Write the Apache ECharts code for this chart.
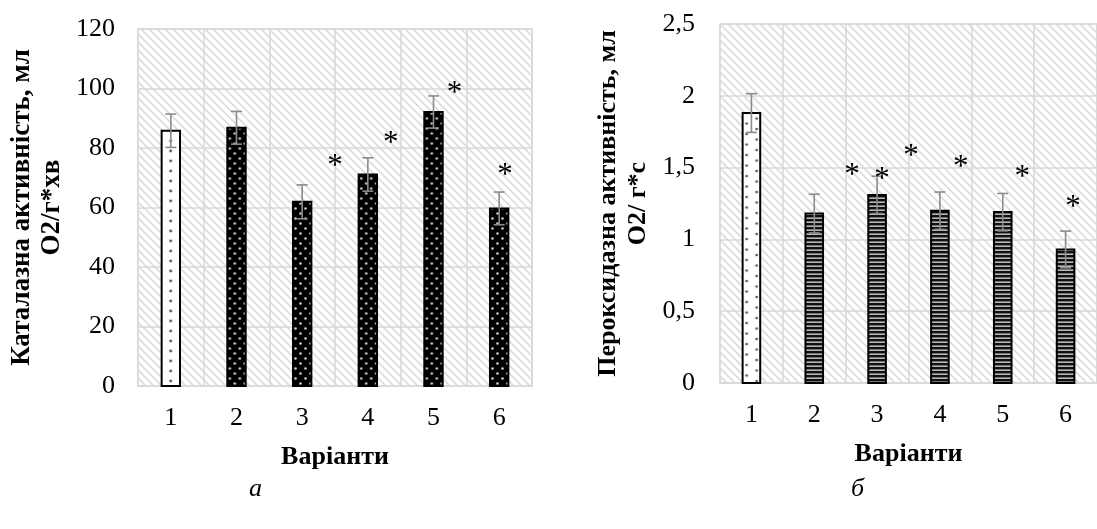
<!DOCTYPE html>
<html>
<head>
<meta charset="utf-8">
<script src="https://cdn.jsdelivr.net/npm/echarts@6/dist/echarts.min.js"></script>
<style>
html,body{margin:0;padding:0;background:#fff;}
#c{width:1097px;height:529px;}
</style>
</head>
<body>
<div id="c"></div>
<script>
// ---- data ----
const categories = ['1', '2', '3', '4', '5', '6'];
const catalaseValues = [85.8, 86.8, 61.9, 71.1, 92.1, 59.7];
const catalaseErrors = [5.6, 5.5, 5.7, 5.6, 5.4, 5.5];
const peroxidaseValues = [1.88, 1.18, 1.31, 1.2, 1.19, 0.93];
const peroxidaseErrors = [0.135, 0.135, 0.13, 0.13, 0.13, 0.128];
// significance asterisks: category position (0-based, fractional) and value
const catalaseStarPos = [2.5, 3.35, 4.32, 5.09];
const catalaseStarVal = [75.6, 83.4, 100.2, 72.6];
const peroxidaseStarPos = [1.6, 2.08, 2.54, 3.33, 4.31, 5.12];
const peroxidaseStarVal = [1.483, 1.455, 1.616, 1.539, 1.469, 1.26];
const catalaseTicks = [0, 20, 40, 60, 80, 100, 120];
const peroxidaseTicks = ['0', '0,5', '1', '1,5', '2', '2,5'];

// ---- patterns ----
function mk(w, h, draw) {
  const c = document.createElement('canvas');
  c.width = w; c.height = h;
  draw(c.getContext('2d'), w, h);
  return c;
}
const hatch = mk(8, 8, (g, w, h) => {
  g.fillStyle = '#ffffff'; g.fillRect(0, 0, w, h);
  g.strokeStyle = '#dcdcdc'; g.lineWidth = 1.6;
  g.beginPath();
  g.moveTo(-2, -2); g.lineTo(w + 2, h + 2);
  g.moveTo(-2, h - 2); g.lineTo(2, h + 2);
  g.moveTo(w - 2, -2); g.lineTo(w + 2, 2);
  g.stroke();
});
const dotsBlack = mk(10, 10, (g, w, h) => {
  g.fillStyle = '#000'; g.fillRect(0, 0, w, h);
  g.fillStyle = '#d0d0d0';
  [[2.5, 2.5], [7.5, 7.5]].forEach(p => { g.beginPath(); g.arc(p[0], p[1], 1.3, 0, Math.PI * 2); g.fill(); });
});
const dotsWhiteSingle = mk(18, 10.6, (g, w, h) => {
  g.fillStyle = '#fff'; g.fillRect(0, 0, w, h);
  g.fillStyle = '#555';
  g.beginPath(); g.arc(w / 2, 5, 1.4, 0, Math.PI * 2); g.fill();
});
const dotsWhiteDouble = mk(18, 21, (g, w, h) => {
  g.fillStyle = '#fff'; g.fillRect(0, 0, w, h);
  g.fillStyle = '#555';
  [[4, 3], [14, 8.5], [4, 13.5], [14, 19]].forEach(p => { g.beginPath(); g.arc(p[0], p[1], 1.3, 0, Math.PI * 2); g.fill(); });
});
const stripes = mk(4, 4.4, (g, w, h) => {
  g.fillStyle = '#111'; g.fillRect(0, 0, w, h);
  g.fillStyle = '#b8b8b8'; g.fillRect(0, 2.4, w, 2);
});

function pat(img, x, y) { return { image: img, repeat: 'repeat', x: x, y: y }; }

const serif = 'Liberation Serif, Times New Roman, serif';
const gridLine = '#d9d9d9';
const FS = 26;

function barRenderer(firstImg, restImg) {
  return function (params, api) {
    const i = api.value(0), v = api.value(1), e = api.value(2);
    const top = api.coord([i, v]);
    const base = api.coord([i, 0]);
    const bw = api.size([1, 0])[0] * 0.28;
    const x = top[0] - bw / 2;
    const img = i === 0 ? firstImg : restImg;
    const hi = api.coord([i, v + e]);
    const lo = api.coord([i, v - e]);
    const cap = 5.5;
    const errStyle = { stroke: '#8c8c8c', lineWidth: 1.6 };
    return {
      type: 'group',
      children: [
        { type: 'rect', shape: { x: x, y: top[1], width: bw, height: base[1] - top[1] },
          style: { fill: pat(img, x, base[1]), stroke: '#000', lineWidth: 2 } },
        { type: 'line', shape: { x1: hi[0], y1: hi[1], x2: lo[0], y2: lo[1] }, style: errStyle },
        { type: 'line', shape: { x1: hi[0] - cap, y1: hi[1], x2: hi[0] + cap, y2: hi[1] }, style: errStyle },
        { type: 'line', shape: { x1: lo[0] - cap, y1: lo[1], x2: lo[0] + cap, y2: lo[1] }, style: errStyle }
      ]
    };
  };
}
function starRenderer(params, api) {
  const p = api.value(0), v = api.value(1);
  const k = Math.floor(p);
  const c = api.coord([k, v]);
  const x = c[0] + (p - k) * api.size([1, 0])[0];
  return { type: 'text', x: x, y: c[1] + 6,
    style: { text: '*', fontFamily: serif, fontSize: 31, fill: '#000', align: 'center', verticalAlign: 'middle' } };
}

function xAxisCfg(gi) {
  return {
    gridIndex: gi, type: 'category', data: categories,
    axisLine: { lineStyle: { color: gridLine, width: 1.5 } },
    axisTick: { show: false },
    axisLabel: { margin: 19, fontFamily: serif, fontSize: FS, color: '#000' },
    splitLine: { show: true, lineStyle: { color: gridLine, width: 1.5 } },
    name: 'Варіанти', nameLocation: 'middle', nameGap: 58,
    nameTextStyle: { fontFamily: serif, fontSize: FS, fontWeight: 'bold', color: '#000' }
  };
}

const chart = echarts.init(document.getElementById('c'));
chart.setOption({
  animation: false,
  backgroundColor: '#fff',
  grid: [
    { left: 138, top: 29, width: 394, height: 357, show: true, borderColor: gridLine, borderWidth: 1.5,
      backgroundColor: pat(hatch, 0, 0) },
    { left: 720, top: 24, width: 388, height: 359, show: true, borderColor: gridLine, borderWidth: 1.5,
      backgroundColor: pat(hatch, 0, 0) }
  ],
  xAxis: [xAxisCfg(0), xAxisCfg(1)],
  yAxis: [
    { gridIndex: 0, type: 'value', min: 0, max: 120, interval: 20,
      axisLine: { show: false }, axisTick: { show: false },
      axisLabel: { margin: 23, fontFamily: serif, fontSize: FS, color: '#000',
        formatter: (val) => { const j = catalaseTicks.indexOf(val); return j >= 0 ? String(catalaseTicks[j]) : ''; } },
      splitLine: { lineStyle: { color: gridLine, width: 1.5 } },
      name: 'Каталазна активність, мл\nО2/г*хв', nameLocation: 'middle', nameGap: 71,
      nameTextStyle: { fontFamily: serif, fontSize: 27, fontWeight: 'bold', color: '#000', lineHeight: 30 } },
    { gridIndex: 1, type: 'value', min: 0, max: 2.5, interval: 0.5,
      axisLine: { show: false }, axisTick: { show: false },
      axisLabel: { margin: 25, fontFamily: serif, fontSize: FS, color: '#000',
        formatter: (val) => { const j = Math.round(val / 0.5); return peroxidaseTicks[j] || ''; } },
      splitLine: { lineStyle: { color: gridLine, width: 1.5 } },
      name: 'Пероксидазна активність, мл\nО2/ г*с', nameLocation: 'middle', nameGap: 67,
      nameTextStyle: { fontFamily: serif, fontSize: FS, fontWeight: 'bold', color: '#000', lineHeight: 30 } }
  ],
  series: [
    { type: 'custom', xAxisIndex: 0, yAxisIndex: 0,
      renderItem: barRenderer(dotsWhiteSingle, dotsBlack),
      data: catalaseValues.map((v, i) => [i, v, catalaseErrors[i]]) },
    { type: 'custom', xAxisIndex: 1, yAxisIndex: 1,
      renderItem: barRenderer(dotsWhiteDouble, stripes),
      data: peroxidaseValues.map((v, i) => [i, v, peroxidaseErrors[i]]) },
    { type: 'custom', xAxisIndex: 0, yAxisIndex: 0, renderItem: starRenderer,
      data: catalaseStarPos.map((p, i) => [p, catalaseStarVal[i]]) },
    { type: 'custom', xAxisIndex: 1, yAxisIndex: 1, renderItem: starRenderer,
      data: peroxidaseStarPos.map((p, i) => [p, peroxidaseStarVal[i]]) }
  ],
  graphic: [
    { type: 'text', left: 249, top: 476, style: { text: 'а', fontFamily: serif, fontSize: FS, fontStyle: 'italic', fill: '#000' } },
    { type: 'text', left: 851, top: 476, style: { text: 'б', fontFamily: serif, fontSize: FS, fontStyle: 'italic', fill: '#000' } }
  ]
});
</script>
</body>
</html>
